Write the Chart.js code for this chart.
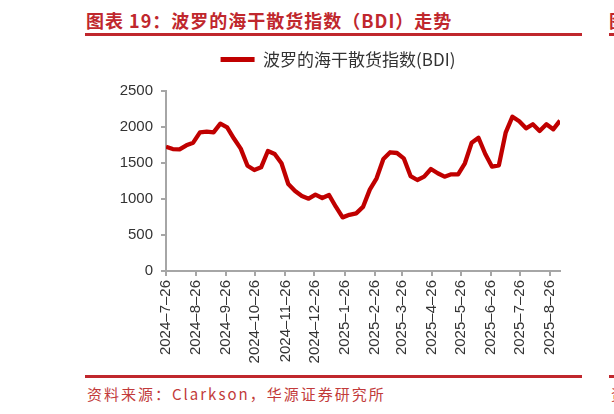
<!DOCTYPE html>
<html>
<head>
<meta charset="utf-8">
<script src="https://cdn.jsdelivr.net/npm/chart.js@4/dist/chart.umd.min.js"></script>
<style>
  html, body { margin: 0; padding: 0; background: #fff; }
  body { width: 614px; height: 414px; position: relative; overflow: hidden; }
  .title { position: absolute; left: 86px; top: 7px; font: bold 18px "Noto Sans CJK SC", sans-serif; letter-spacing: 1px; color: #c0272d; white-space: nowrap; }
  .rule { position: absolute; height: 3px; background: #c0272d; }
  .source { position: absolute; left: 87px; top: 383px; font: 15px "Noto Sans CJK SC", sans-serif; letter-spacing: 2px; color: #c23a3a; white-space: nowrap; }
  #wrap { position: absolute; left: 0; top: 41px; width: 614px; height: 333px; }
</style>
</head>
<body>
<div class="title">图表 19：波罗的海干散货指数（BDI）走势</div>
<div class="rule" style="left:85px; top:33px; width:497px;"></div>
<div class="title" style="left:609px;">图</div>
<div class="rule" style="left:609px; top:33px; width:10px;"></div>
<div id="wrap"><canvas id="bdiChart"></canvas></div>
<div class="rule" style="left:85px; top:375px; width:497px;"></div>
<div class="rule" style="left:609px; top:375px; width:10px;"></div>
<div class="source">资料来源：Clarkson，华源证券研究所</div>
<div class="source" style="left:611px;">资</div>
<script>
// weekly BDI readings (Fridays)
const dates = [
  '2024-07-26','2024-08-02','2024-08-09','2024-08-16','2024-08-23','2024-08-30',
  '2024-09-06','2024-09-13','2024-09-20','2024-09-27','2024-10-04','2024-10-11',
  '2024-10-18','2024-10-25','2024-11-01','2024-11-08','2024-11-15','2024-11-22',
  '2024-11-29','2024-12-06','2024-12-13','2024-12-20','2024-12-27','2025-01-03',
  '2025-01-10','2025-01-17','2025-01-24','2025-01-31','2025-02-07','2025-02-14',
  '2025-02-21','2025-02-28','2025-03-07','2025-03-14','2025-03-21','2025-03-28',
  '2025-04-04','2025-04-11','2025-04-18','2025-04-25','2025-05-02','2025-05-09',
  '2025-05-16','2025-05-23','2025-05-30','2025-06-06','2025-06-13','2025-06-20',
  '2025-06-27','2025-07-04','2025-07-11','2025-07-18','2025-07-25','2025-08-01',
  '2025-08-08','2025-08-15','2025-08-22','2025-08-29','2025-09-05'
];
const bdi = [
  1726, 1694, 1690, 1746, 1782, 1926, 1935, 1926, 2046, 1996,
  1840, 1700, 1462, 1403, 1440, 1667, 1625, 1496, 1208, 1111,
  1042, 1004, 1060, 1014, 1056, 893, 745, 780, 801, 890,
  1130, 1287, 1556, 1649, 1639, 1565, 1319, 1264, 1310, 1417,
  1357, 1310, 1343, 1343, 1496, 1782, 1851, 1625, 1449, 1468,
  1921, 2143, 2079, 1982, 2038, 1944, 2038, 1968, 2088
];
const tickLabels = [
  '2024-7-26','2024-8-26','2024-9-26','2024-10-26','2024-11-26','2024-12-26',
  '2025-1-26','2025-2-26','2025-3-26','2025-4-26','2025-5-26','2025-6-26',
  '2025-7-26','2025-8-26'
];
const yTicks = [0, 500, 1000, 1500, 2000, 2500];
const seriesName = '波罗的海干散货指数(BDI)';

function dayOf(s) {
  const p = s.split('-').map(Number);
  return Math.round((Date.UTC(p[0], p[1] - 1, p[2]) - Date.UTC(2024, 6, 26)) / 86400000);
}

const points = dates.map((d, i) => ({ x: dayOf(d), y: bdi[i] }));
const tickDays = tickLabels.map(dayOf);
const axisGrey = '#a6a6a6';
const tickFont = { family: 'Liberation Sans', size: 15 };

// fix the legend height so the plot top lands where it should
const legendHeight = {
  id: 'legendHeight',
  beforeInit(chart) {
    const fit = chart.legend.fit;
    chart.legend.fit = function () {
      fit.bind(chart.legend)();
      this.height = 50;
    };
  }
};

const ctx = document.getElementById('bdiChart').getContext('2d');
new Chart(ctx, {
  type: 'line',
  data: {
    datasets: [{
      label: seriesName,
      data: points,
      borderColor: '#c00000',
      backgroundColor: '#c00000',
      borderWidth: 4.3,
      pointRadius: 0,
      tension: 0,
      borderJoinStyle: 'round'
    }]
  },
  options: {
    responsive: true,
    maintainAspectRatio: false,
    animation: false,
    layout: { padding: { left: 116, right: 54, top: 0, bottom: 0 } },
    plugins: {
      legend: {
        position: 'top',
        labels: {
          boxWidth: 34,
          boxHeight: 5,
          padding: 10,
          color: '#333',
          font: { family: 'Noto Sans CJK SC', size: 17 },
          generateLabels(chart) {
            return Chart.defaults.plugins.legend.labels.generateLabels(chart)
              .map(l => Object.assign(l, { lineWidth: 0 }));
          }
        }
      },
      tooltip: { enabled: false }
    },
    scales: {
      x: {
        type: 'linear',
        min: 0,
        max: dayOf(dates[dates.length - 1]),
        afterBuildTicks(scale) {
          scale.ticks = tickDays.map(v => ({ value: v }));
        },
        afterFit(scale) { scale.height = 103; },
        ticks: {
          autoSkip: false,
          minRotation: 90,
          maxRotation: 90,
          padding: 4,
          color: '#333',
          font: tickFont,
          callback: (v) => {
            const i = tickDays.indexOf(v);
            return i < 0 ? '' : tickLabels[i].replace(/-/g, '–');
          }
        },
        grid: { drawOnChartArea: false, drawTicks: true, tickLength: 5, color: axisGrey, lineWidth: 2 },
        border: { color: axisGrey, width: 2 }
      },
      y: {
        min: 0,
        max: 2500,
        afterBuildTicks(scale) {
          scale.ticks = yTicks.map(v => ({ value: v }));
        },
        afterFit(scale) { scale.width = 50; },
        ticks: { padding: 8, color: '#333', font: tickFont, callback: v => String(v) },
        grid: { drawOnChartArea: false, drawTicks: true, tickLength: 5, color: axisGrey, lineWidth: 2 },
        border: { color: axisGrey, width: 2 }
      }
    }
  },
  plugins: [legendHeight]
});
</script>
</body>
</html>
